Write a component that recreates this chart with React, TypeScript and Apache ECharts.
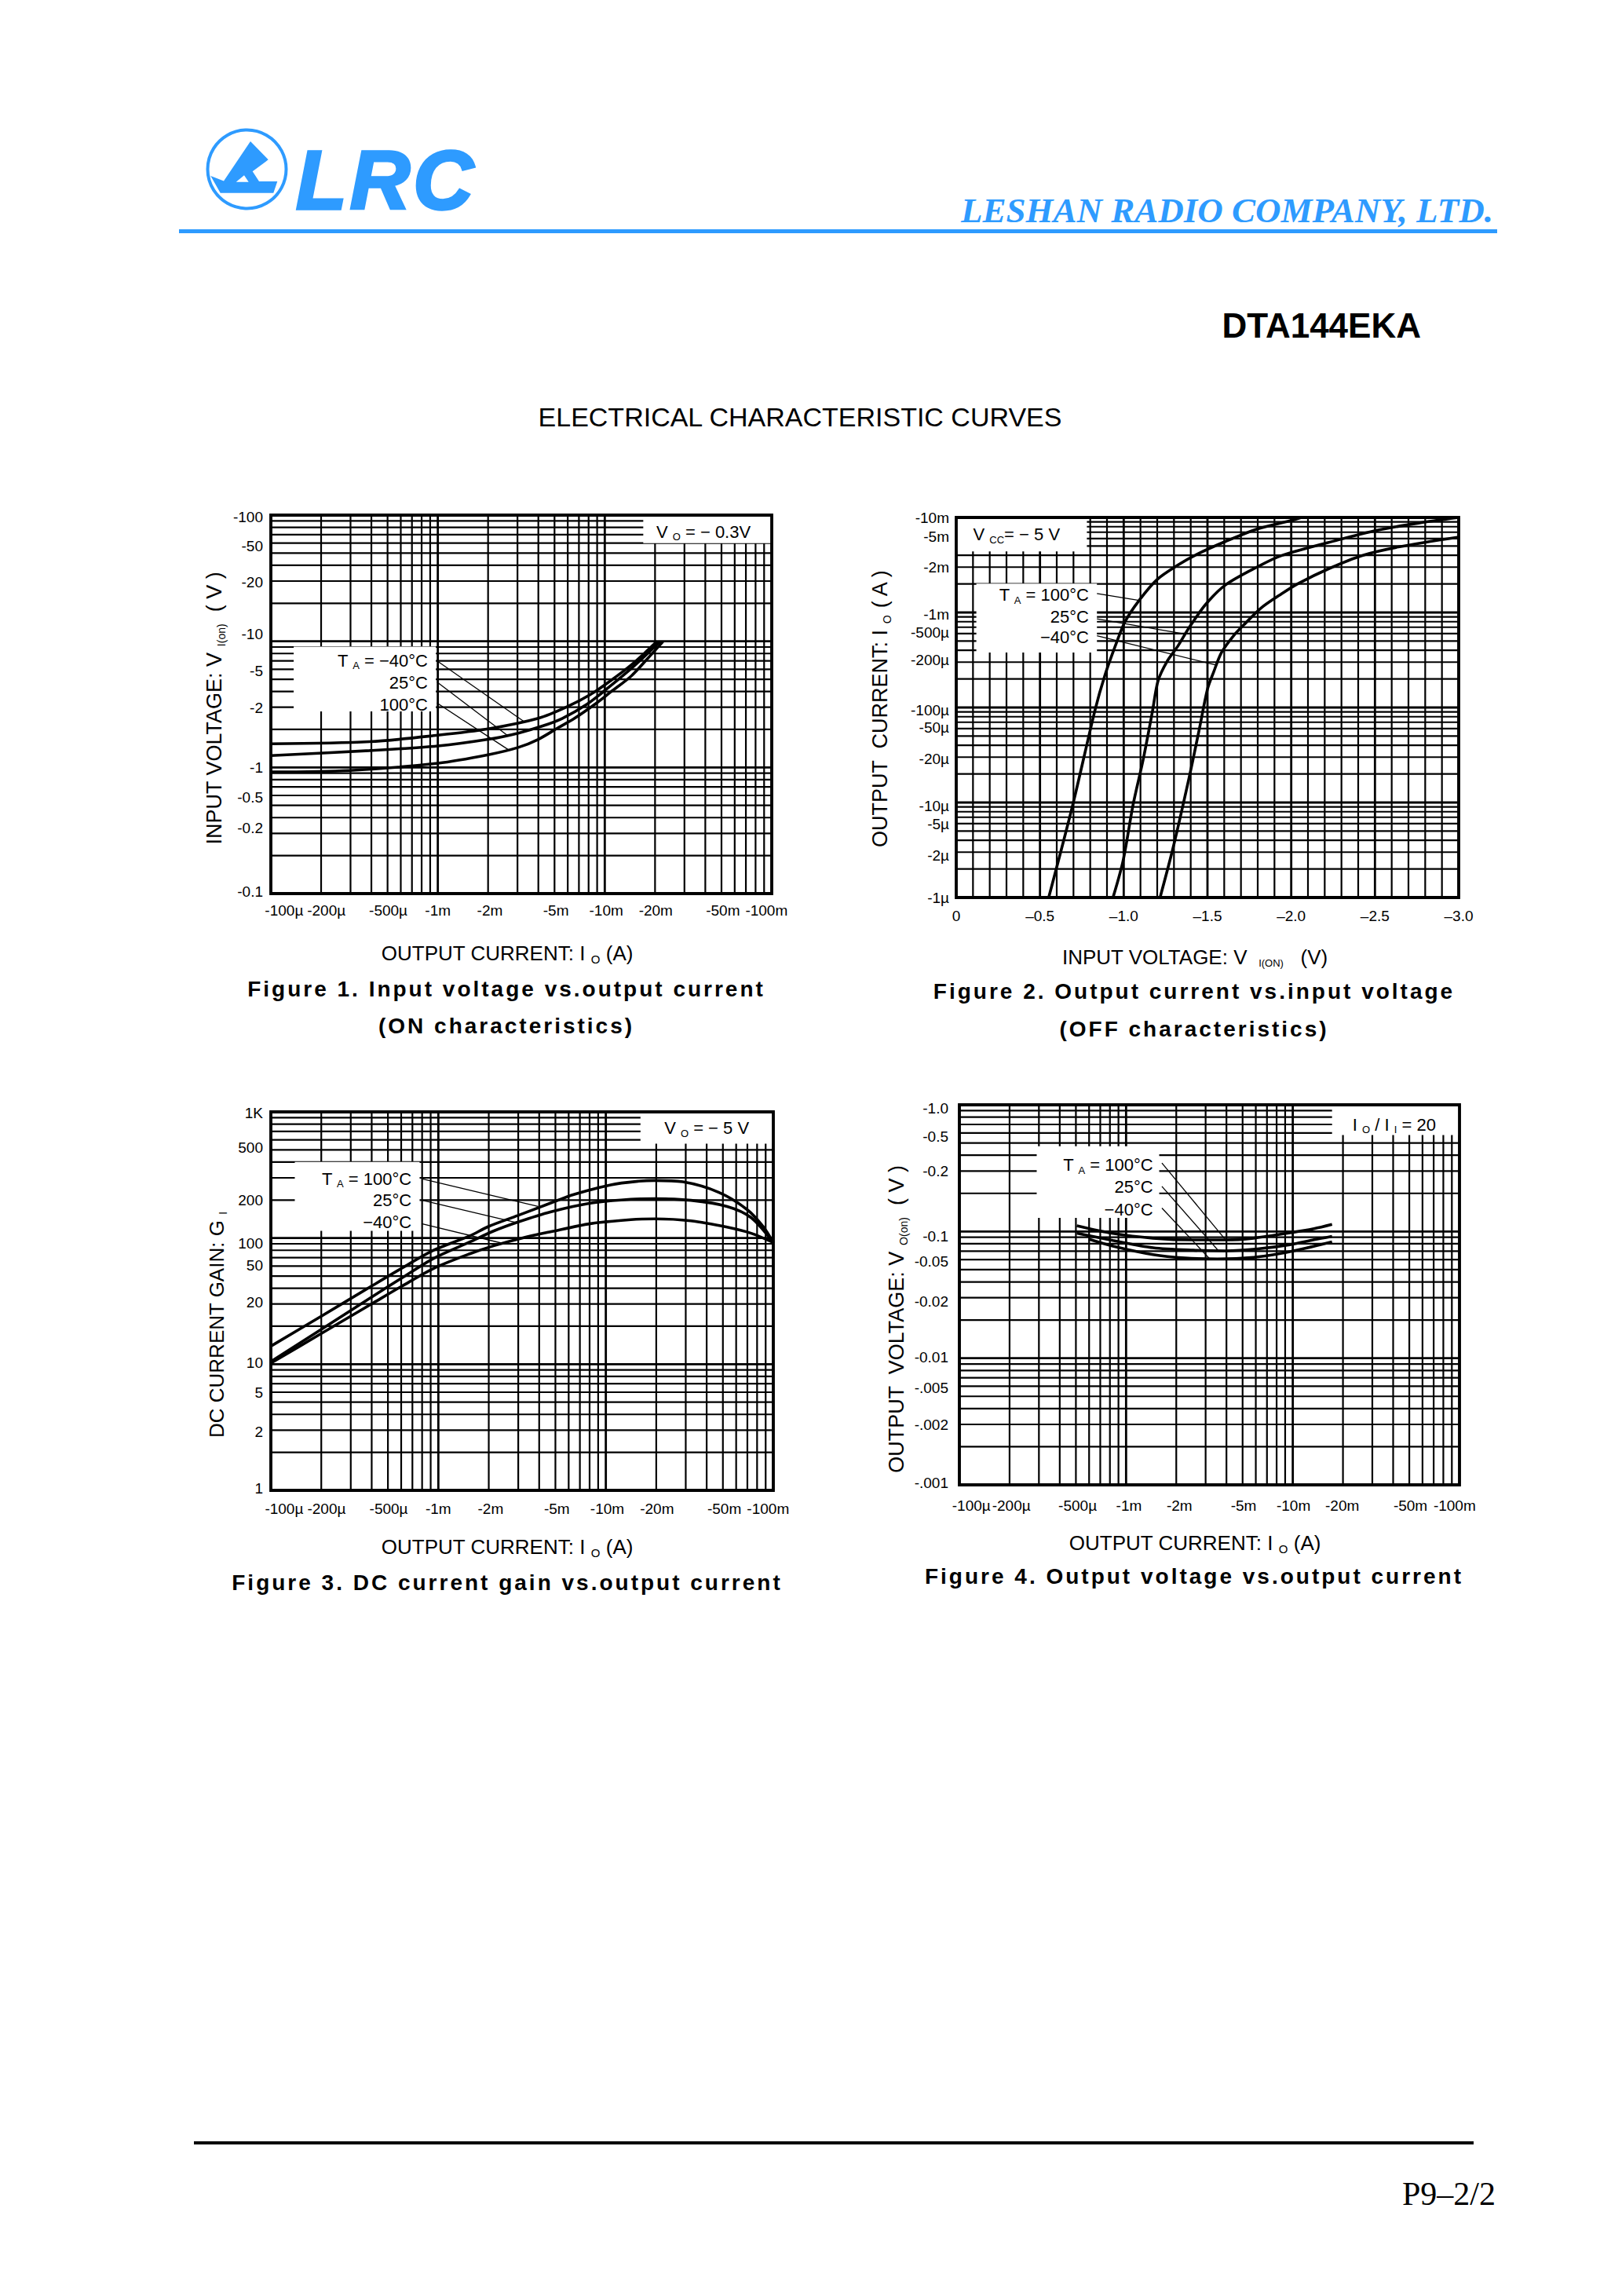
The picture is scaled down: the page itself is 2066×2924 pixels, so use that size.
import React, { useEffect, useRef } from 'react';
import * as echarts from 'echarts';

const PAGE_W = 2066;
const PAGE_H = 2924;
const BLUE = '#2e9bff';
const SANS = '"Liberation Sans", Arial, Helvetica, sans-serif';
const SERIF = '"Liberation Serif", "Times New Roman", serif';

// ================= Figure 1 : input voltage vs output current (ON) =================
const fig1CurrentM40 = [100e-6, 390e-6, 1e-3, 2e-3, 4e-3, 5.9e-3, 8.2e-3, 10.9e-3, 14.4e-3, 17.9e-3, 20.6e-3];
const fig1VoltageM40 = [1.54, 1.6, 1.8, 2.02, 2.45, 3.01, 3.78, 4.9, 6.49, 8.39, 10.0];
const fig1Current25 = [100e-6, 390e-6, 1e-3, 2e-3, 3.03e-3, 4.24e-3, 5.58e-3, 7.8e-3, 10.3e-3, 13.6e-3, 16.9e-3, 21.4e-3];
const fig1Voltage25 = [1.24, 1.36, 1.48, 1.67, 1.87, 2.13, 2.45, 3.16, 4.2, 5.7, 7.38, 9.93];
const fig1Current100 = [100e-6, 295e-6, 1e-3, 2e-3, 3.03e-3, 4e-3, 5.28e-3, 6.59e-3, 8.71e-3, 10.9e-3, 14.4e-3, 17.9e-3, 22.3e-3];
const fig1Voltage100 = [0.92, 0.946, 1.08, 1.26, 1.44, 1.67, 2.07, 2.45, 3.16, 3.98, 5.3, 7.2, 9.93];

const currentTickText = ['-100µ', '-200µ', '-500µ', '-1m', '-2m', '-5m', '-10m', '-20m', '-50m', '-100m'];
const fig13CurrentTickAt = [120e-6, 215e-6, 505e-6, 1.0e-3, 2.05e-3, 5.1e-3, 10.2e-3, 20.2e-3, 51e-3, 93e-3];
const fig1VoltTickText = ['-100', '-50', '-20', '-10', '-5', '-2', '-1', '-0.5', '-0.2', '-0.1'];
const fig1VoltTickAt = [97, 57, 29.5, 11.4, 5.8, 2.97, 1.0, 0.58, 0.33, 0.104];

// ================= Figure 2 : output current vs input voltage (OFF) =================
const fig2Voltage100 = [0.552, 0.696, 0.828, 0.888, 0.96, 1.008, 1.092, 1.2, 1.32, 1.44, 1.608, 1.8, 1.992, 2.06];
const fig2Current100 = [1.0e-6, 9.5e-6, 93e-6, 219e-6, 497e-6, 802e-6, 1.34e-3, 2.23e-3, 3.13e-3, 4.12e-3, 5.6e-3, 7.6e-3, 9.21e-3, 10e-3];
const fig2Voltage25 = [0.936, 0.996, 1.056, 1.116, 1.171, 1.205, 1.26, 1.32, 1.392, 1.488, 1.608, 1.8, 1.944, 2.28, 2.52, 2.76, 2.99];
const fig2Current25 = [1e-6, 2.43e-6, 9.5e-6, 28.3e-6, 90e-6, 191e-6, 308e-6, 434e-6, 699e-6, 1.21e-3, 1.95e-3, 3.03e-3, 3.98e-3, 5.8e-3, 7.36e-3, 8.73e-3, 9.95e-3];
const fig2VoltageM40 = [1.217, 1.296, 1.392, 1.452, 1.5, 1.536, 1.584, 1.656, 1.728, 1.824, 1.944, 2.04, 2.232, 2.424, 2.64, 3.0];
const fig2CurrentM40 = [1e-6, 3.41e-6, 18.8e-6, 60e-6, 156e-6, 234e-6, 379e-6, 570e-6, 775e-6, 1.13e-3, 1.58e-3, 2.01e-3, 2.93e-3, 3.98e-3, 4.89e-3, 6.21e-3];

const fig2VoltTickText = ['0', '–0.5', '–1.0', '–1.5', '–2.0', '–2.5', '–3.0'];
const fig2VoltTickAt = [0, 0.5, 1.0, 1.5, 2.0, 2.5, 3.0];
const fig2CurrentTickText = ['-10m', '-5m', '-2m', '-1m', '-500µ', '-200µ', '-100µ', '-50µ', '-20µ', '-10µ', '-5µ', '-2µ', '-1µ'];
const fig2CurrentTickAt = [10e-3, 6.3e-3, 2.97e-3, 0.95e-3, 610e-6, 319e-6, 93e-6, 62e-6, 28.7e-6, 9.2e-6, 5.97e-6, 2.78e-6, 1e-6];

// ================= Figure 3 : DC current gain vs output current =================
const fig3Current100 = [100e-6, 200e-6, 409e-6, 603e-6, 938e-6, 1.54e-3, 1.98e-3, 2.99e-3, 4.66e-3, 6.49e-3, 10.7e-3, 15.7e-3, 19.6e-3, 28.8e-3, 47.4e-3, 69.8e-3, 87e-3, 100e-3];
const fig3Gain100 = [13.9, 24.0, 42.4, 57.5, 80, 104, 123, 151, 189, 222, 264, 282, 286, 279, 230, 168, 123, 92];
const fig3Current25 = [100e-6, 200e-6, 409e-6, 603e-6, 938e-6, 1.54e-3, 2.15e-3, 2.99e-3, 4.66e-3, 8.09e-3, 14.1e-3, 19.6e-3, 32.2e-3, 53e-3, 73.8e-3, 100e-3];
const fig3Gain25 = [10.5, 18.9, 34.7, 48.1, 69, 93, 114, 134, 161, 189, 203, 205, 199, 178, 145, 92];
const fig3CurrentM40 = [100e-6, 200e-6, 409e-6, 603e-6, 938e-6, 1.54e-3, 2.15e-3, 3.16e-3, 4.66e-3, 8.09e-3, 14.1e-3, 19.6e-3, 32.2e-3, 53e-3, 73.8e-3, 100e-3];
const fig3GainM40 = [10.2, 17.5, 30.6, 41.4, 57.5, 75, 87, 100, 112, 130, 140, 142, 137, 122, 109, 92];

const fig3GainTickText = ['1K', '500', '200', '100', '50', '20', '10', '5', '2', '1'];
const fig3GainTickAt = [985, 519, 200, 90.6, 60.6, 31, 10.2, 5.97, 2.91, 1.04];

// ================= Figure 4 : output voltage vs output current =================
const fig4Current100 = [506e-6, 834e-6, 1.45e-3, 2.53e-3, 3.95e-3, 5.82e-3, 9.08e-3, 13.4e-3, 17.2e-3];
const fig4Voltage100 = [0.111, 0.0965, 0.0885, 0.0858, 0.0858, 0.0885, 0.0965, 0.1052, 0.1137];
const fig4Current25 = [506e-6, 834e-6, 1.45e-3, 2.53e-3, 3.95e-3, 6.15e-3, 9.6e-3, 13.4e-3, 17.2e-3];
const fig4Voltage25 = [0.097, 0.085, 0.0745, 0.0712, 0.0703, 0.0728, 0.0787, 0.0862, 0.0917];
const fig4CurrentM40 = [597e-6, 834e-6, 1.45e-3, 2.26e-3, 3.53e-3, 5.82e-3, 8.59e-3, 12.0e-3, 17.2e-3];
const fig4VoltageM40 = [0.0871, 0.0766, 0.0657, 0.0618, 0.0608, 0.0625, 0.0674, 0.0739, 0.0828];

const fig4CurrentTickAt = [118e-6, 205e-6, 512e-6, 1.04e-3, 2.09e-3, 5.07e-3, 10.1e-3, 19.8e-3, 50.8e-3, 93.5e-3];
const fig4VoltTickText = ['-1.0', '-0.5', '-0.2', '-0.1', '-0.05', '-0.02', '-0.01', '-.005', '-.002', '-.001'];
const fig4VoltTickAt = [0.94, 0.56, 0.3, 0.092, 0.058, 0.028, 0.0102, 0.0058, 0.003, 0.00104];

// ================= annotations (anchored in data space) =================
type Part = [string, boolean];
const TA_HI: Part[] = [['T ', false], ['A', true], [' = 100°C', false]];
const TA_LO: Part[] = [['T ', false], ['A', true], [' = −40°C', false]];
const P = (s: string): Part[] => [[s, false]];

const fig1Boxes = [{ from: [17e-3, 60], to: [100e-3, 100] }, { from: [137e-6, 2.78], to: [973e-6, 9.06] }];
const fig1Notes = [
  { at: [39e-3, 74], parts: [['V ', false], ['O', true], [' = − 0.3V', false]] as Part[], align: 'center' },
  { at: [871e-6, 7.01], parts: TA_LO, align: 'right' },
  { at: [871e-6, 4.7], parts: P('25°C'), align: 'right' },
  { at: [871e-6, 3.16], parts: P('100°C'), align: 'right' },
];
const fig1Leaders = [
  { from: [988e-6, 7.01], to: [3.3e-3, 2.3] },
  { from: [988e-6, 4.76], to: [2.6e-3, 1.8] },
  { from: [988e-6, 3.24], to: [2.65e-3, 1.38] },
];

const fig2Boxes = [{ from: [0, 4.4e-3], to: [0.78, 10e-3] }, { from: [0.12, 378e-6], to: [0.84, 2.01e-3] }];
const fig2Notes = [
  { at: [0.36, 6.64e-3], parts: [['V ', false], ['CC', true], ['= − 5 V', false]] as Part[], align: 'center' },
  { at: [0.792, 1.53e-3], parts: TA_HI, align: 'right' },
  { at: [0.792, 906e-6], parts: P('25°C'), align: 'right' },
  { at: [0.792, 551e-6], parts: P('−40°C'), align: 'right' },
];
const fig2Leaders = [
  { from: [0.84, 1.58e-3], to: [1.092, 1.34e-3] },
  { from: [0.84, 857e-6], to: [1.35, 600e-6] },
  { from: [0.84, 570e-6], to: [1.55, 280e-6] },
];

const fig3Boxes = [{ from: [16.1e-3, 560], to: [100e-3, 1000] }, { from: [139e-6, 114], to: [773e-6, 401] }];
const fig3Notes = [
  { at: [40e-3, 743], parts: [['V ', false], ['O', true], [' = − 5 V', false]] as Part[], align: 'center' },
  { at: [692e-6, 295], parts: TA_HI, align: 'right' },
  { at: [692e-6, 200], parts: P('25°C'), align: 'right' },
  { at: [692e-6, 133], parts: P('−40°C'), align: 'right' },
];
const fig3Leaders = [
  { from: [794e-6, 295], to: [3.94e-3, 178] },
  { from: [794e-6, 200], to: [2.91e-3, 133] },
  { from: [794e-6, 130], to: [2.4e-3, 91] },
];

const fig4Boxes = [{ from: [17.2e-3, 0.578], to: [100e-3, 1.0] }, { from: [291e-6, 0.128], to: [1.58e-3, 0.471] }];
const fig4Notes = [
  { at: [40.6e-3, 0.698], parts: [['I ', false], ['O', true], [' / I ', false], ['I', true], [' = 20', false]] as Part[], align: 'center' },
  { at: [1.45e-3, 0.334], parts: TA_HI, align: 'right' },
  { at: [1.45e-3, 0.224], parts: P('25°C'), align: 'right' },
  { at: [1.45e-3, 0.149], parts: P('−40°C'), align: 'right' },
];
const fig4Leaders = [
  { from: [1.64e-3, 0.347], to: [3.95e-3, 0.0861] },
  { from: [1.64e-3, 0.227], to: [3.57e-3, 0.0708] },
  { from: [1.64e-3, 0.153], to: [3.16e-3, 0.0612] },
];

// ================= helpers =================
function logGrid(e0: number, e1: number): number[] {
  const out: number[] = [];
  for (let e = e0; e < e1; e++) for (let k = 1; k < 10; k++) out.push(k * Math.pow(10, e));
  out.push(Math.pow(10, e1));
  return out;
}
function linGrid(n: number, step: number): number[] {
  const out: number[] = [];
  for (let i = 0; i <= n; i++) out.push(+(i * step).toFixed(4));
  return out;
}

// main tokens hang from the top of the line, subscript tokens sit on its bottom
function richStyle(parts: Part[], F: number, S: number, weight = 'normal') {
  const hasSub = parts.some((p) => p[1]);
  const L = hasSub ? Math.round(0.8 * F + S / 2) : F;
  return {
    text: parts.map(([t, s]) => `{${s ? 's' : 'a'}|${t}}`).join(''),
    fontSize: F,
    fontFamily: SANS,
    fill: '#000',
    rich: {
      a: { fontSize: F, lineHeight: F, verticalAlign: 'top', fontFamily: SANS, fontWeight: weight, fill: '#000' },
      s: { fontSize: S, lineHeight: L, verticalAlign: 'bottom', fontFamily: SANS, fill: '#000' },
    },
  };
}

const FIGS: any[] = [
  {
    grid: { left: 345, top: 656, width: 638, height: 482 },
    xLog: true, xMin: 1e-4, xMax: 1e-1, yMin: 0.1, yMax: 100,
    xGrid: logGrid(-4, -1), yGrid: logGrid(-1, 2),
    xTickAt: fig13CurrentTickAt, xTickText: currentTickText,
    yTickAt: fig1VoltTickAt, yTickText: fig1VoltTickText,
    xMargin: 12, yMargin: 10,
    curves: [[fig1CurrentM40, fig1VoltageM40], [fig1Current25, fig1Voltage25], [fig1Current100, fig1Voltage100]],
    boxes: fig1Boxes, notes: fig1Notes, leaders: fig1Leaders,
  },
  {
    grid: { left: 1218, top: 659, width: 640, height: 484 },
    xLog: false, xMin: 0, xMax: 3, yMin: 1e-6, yMax: 1e-2,
    xGrid: linGrid(30, 0.1), yGrid: logGrid(-6, -2),
    xTickAt: fig2VoltTickAt, xTickText: fig2VoltTickText,
    yTickAt: fig2CurrentTickAt, yTickText: fig2CurrentTickText,
    xMargin: 14, yMargin: 9,
    curves: [[fig2Voltage100, fig2Current100], [fig2Voltage25, fig2Current25], [fig2VoltageM40, fig2CurrentM40]],
    boxes: fig2Boxes, notes: fig2Notes, leaders: fig2Leaders,
  },
  {
    grid: { left: 345, top: 1416, width: 640, height: 482 },
    xLog: true, xMin: 1e-4, xMax: 1e-1, yMin: 1, yMax: 1000,
    xGrid: logGrid(-4, -1), yGrid: logGrid(0, 3),
    xTickAt: fig13CurrentTickAt, xTickText: currentTickText,
    yTickAt: fig3GainTickAt, yTickText: fig3GainTickText,
    xMargin: 14, yMargin: 10,
    curves: [[fig3Current100, fig3Gain100], [fig3Current25, fig3Gain25], [fig3CurrentM40, fig3GainM40]],
    boxes: fig3Boxes, notes: fig3Notes, leaders: fig3Leaders,
  },
  {
    grid: { left: 1222, top: 1407, width: 637, height: 484 },
    xLog: true, xMin: 1e-4, xMax: 1e-1, yMin: 1e-3, yMax: 1,
    xGrid: logGrid(-4, -1), yGrid: logGrid(-3, 0),
    xTickAt: fig4CurrentTickAt, xTickText: currentTickText,
    yTickAt: fig4VoltTickAt, yTickText: fig4VoltTickText,
    xMargin: 17, yMargin: 14,
    curves: [[fig4Current100, fig4Voltage100], [fig4Current25, fig4Voltage25], [fig4CurrentM40, fig4VoltageM40]],
    boxes: fig4Boxes, notes: fig4Notes, leaders: fig4Leaders,
  },
];

function nearestLabel(pos: number[], text: string[]) {
  return (v: number) => {
    let bi = 0;
    let bd = Infinity;
    pos.forEach((p, i) => {
      const d = Math.abs(p - v);
      if (d < bd) { bd = d; bi = i; }
    });
    return text[bi];
  };
}

function isMajor(v: number, log: boolean) {
  if (log) { const l = Math.log10(v); return Math.abs(l - Math.round(l)) < 1e-9; }
  return Math.abs(v * 2 - Math.round(v * 2)) < 1e-9;
}

function buildOption() {
  const xAxis: any[] = [];
  const yAxis: any[] = [];
  const series: any[] = [];
  FIGS.forEach((f, i) => {
    const tx = (v: number) => (f.xLog ? Math.log10(v) : v);
    const ty = (v: number) => Math.log10(v);
    const X0 = tx(f.xMin), X1 = tx(f.xMax), Y0 = ty(f.yMin), Y1 = ty(f.yMax);
    const xPos = f.xTickAt.map(tx);
    const yPos = f.yTickAt.map(ty);
    xAxis.push({
      type: 'value', gridIndex: i, min: X0, max: X1,
      axisLine: { show: false }, axisTick: { show: false }, splitLine: { show: false },
      axisLabel: {
        show: true, customValues: xPos, formatter: nearestLabel(xPos, f.xTickText),
        color: '#000', fontSize: 19, fontFamily: SANS, margin: f.xMargin,
      },
    });
    yAxis.push({
      type: 'value', gridIndex: i, min: Y0, max: Y1,
      axisLine: { show: false }, axisTick: { show: false }, splitLine: { show: false },
      axisLabel: {
        show: true, customValues: yPos, formatter: nearestLabel(yPos, f.yTickText),
        color: '#000', fontSize: 19, fontFamily: SANS, margin: f.yMargin,
      },
    });
    const mid = [[(X0 + X1) / 2, (Y0 + Y1) / 2]];
    // grid lines
    series.push({
      type: 'custom', xAxisIndex: i, yAxisIndex: i, z: 1, silent: true, data: mid,
      renderItem: (_p: any, api: any) => {
        const children: any[] = [];
        f.xGrid.forEach((v: number) => {
          const a = api.coord([tx(v), Y0]);
          const b = api.coord([tx(v), Y1]);
          children.push({ type: 'line', shape: { x1: a[0], y1: a[1], x2: b[0], y2: b[1] }, style: { stroke: '#000', lineWidth: isMajor(v, f.xLog) ? 2.8 : 2.2 } });
        });
        f.yGrid.forEach((v: number) => {
          const a = api.coord([X0, ty(v)]);
          const b = api.coord([X1, ty(v)]);
          children.push({ type: 'line', shape: { x1: a[0], y1: a[1], x2: b[0], y2: b[1] }, style: { stroke: '#000', lineWidth: isMajor(v, true) ? 2.8 : 2.2 } });
        });
        return { type: 'group', children };
      },
    });
    // white label boxes
    series.push({
      type: 'custom', xAxisIndex: i, yAxisIndex: i, z: 2, silent: true, data: mid,
      renderItem: (_p: any, api: any) => ({
        type: 'group',
        children: f.boxes.map((b: any) => {
          const a = api.coord([tx(b.from[0]), ty(b.to[1])]);
          const c = api.coord([tx(b.to[0]), ty(b.from[1])]);
          return { type: 'rect', shape: { x: a[0], y: a[1], width: c[0] - a[0], height: c[1] - a[1] }, style: { fill: '#fff' } };
        }),
      }),
    });
    // curves
    f.curves.forEach((c: number[][], k: number) => {
      series.push({
        type: 'line', name: `fig${i + 1}-${k}`, xAxisIndex: i, yAxisIndex: i, z: 3, silent: true,
        data: c[0].map((x: number, j: number) => [tx(x), ty(c[1][j])]),
        smooth: 0.3, symbol: 'none', showSymbol: false, clip: true,
        lineStyle: { color: '#000', width: 3.6 },
      });
    });
    // frame, leaders, notes
    series.push({
      type: 'custom', xAxisIndex: i, yAxisIndex: i, z: 4, silent: true, data: mid,
      renderItem: (_p: any, api: any) => {
        const children: any[] = [];
        f.leaders.forEach((l: any) => {
          const a = api.coord([tx(l.from[0]), ty(l.from[1])]);
          const b = api.coord([tx(l.to[0]), ty(l.to[1])]);
          children.push({ type: 'line', shape: { x1: a[0], y1: a[1], x2: b[0], y2: b[1] }, style: { stroke: '#000', lineWidth: 1.3 } });
        });
        f.notes.forEach((n: any) => {
          const p = api.coord([tx(n.at[0]), ty(n.at[1])]);
          children.push({
            type: 'text', x: p[0], y: p[1] - 11,
            style: { ...richStyle(n.parts, 22, 13), align: n.align, verticalAlign: 'top' },
          });
        });
        const a = api.coord([X0, Y1]);
        const c = api.coord([X1, Y0]);
        children.push({ type: 'rect', shape: { x: a[0], y: a[1], width: c[0] - a[0], height: c[1] - a[1] }, style: { fill: 'none', stroke: '#000', lineWidth: 3.8 } });
        return { type: 'group', children };
      },
    });
  });

  const T = (x: number, y: number, text: string, o: any = {}) => ({
    type: 'text', x, y, silent: true,
    style: {
      text, fill: o.fill || '#000', fontSize: o.size || 24, fontFamily: o.family || SANS,
      fontWeight: o.weight || 'normal', fontStyle: o.fontStyle || 'normal',
      align: o.align || 'center', verticalAlign: 'middle',
      stroke: o.stroke, lineWidth: o.lineWidth || 0,
    },
  });
  const RT = (cx: number, cy: number, parts: Part[], F: number, S: number, rotate = false) =>
    rotate
      ? { type: 'text', x: cx - F / 2, y: cy, rotation: Math.PI / 2, silent: true, style: { ...richStyle(parts, F, S), align: 'center', verticalAlign: 'top' } }
      : { type: 'text', x: cx, y: cy - F / 2, silent: true, style: { ...richStyle(parts, F, S), align: 'center', verticalAlign: 'top' } };

  const xTitleCurrent: Part[] = [['OUTPUT CURRENT: I ', false], ['O', true], [' (A)', false]];

  const graphic: any[] = [
    // logo
    { type: 'circle', shape: { cx: 314.5, cy: 215.5, r: 50 }, style: { fill: 'none', stroke: BLUE, lineWidth: 4 } },
    {
      type: 'polygon',
      shape: { points: [[268.3, 224], [285, 230.5], [319, 180], [341.7, 203.3], [338.3, 206], [321.7, 218.3], [330, 231], [353.3, 231], [348.3, 245.7], [280.7, 245.7]] },
      style: { fill: BLUE },
    },
    { type: 'polygon', shape: { points: [[300.7, 231.7], [311, 223.3], [316.7, 231.7]] }, style: { fill: '#fff' } },
    T(377, 229, 'LRC', { size: 106, weight: 'bold', fontStyle: 'italic', fill: BLUE, stroke: BLUE, lineWidth: 3.5, align: 'left' }),
    T(1902, 268, 'LESHAN RADIO COMPANY, LTD.', { size: 45, family: SERIF, weight: 'bold', fontStyle: 'italic', fill: BLUE, align: 'right' }),
    { type: 'line', shape: { x1: 228, y1: 294.5, x2: 1907, y2: 294.5 }, style: { stroke: BLUE, lineWidth: 5 } },
    T(1810, 414, 'DTA144EKA', { size: 44, weight: 'bold', align: 'right' }),
    T(1019, 531, 'ELECTRICAL CHARACTERISTIC CURVES', { size: 34 }),
    // figure 1 titles
    RT(273, 902, [['INPUT VOLTAGE: V ', false], ['I(on)', true], ['  ( V )', false]], 27, 14, true),
    RT(646, 1213.5, xTitleCurrent, 26, 15),
    T(645, 1259, 'Figure 1. Input voltage vs.output current', { size: 28, weight: 'bold' }),
    T(645, 1306, '(ON characteristics)', { size: 28, weight: 'bold' }),
    // figure 2 titles
    RT(1121, 902, [['OUTPUT  CURRENT: I ', false], ['O', true], [' ( A )', false]], 27, 14, true),
    RT(1522, 1219, [['INPUT VOLTAGE: V  ', false], ['I(ON)', true], ['   (V)', false]], 26, 13),
    T(1521, 1262, 'Figure 2. Output current vs.input voltage', { size: 28, weight: 'bold' }),
    T(1521, 1310, '(OFF characteristics)', { size: 28, weight: 'bold' }),
    // figure 3 titles
    RT(276, 1687, [['DC CURRENT GAIN: G ', false], ['I', true]], 26, 14, true),
    RT(646, 1970, xTitleCurrent, 26, 15),
    T(646, 2015, 'Figure 3. DC current gain vs.output current', { size: 28, weight: 'bold' }),
    // figure 4 titles
    RT(1142, 1680, [['OUTPUT  VOLTAGE: V ', false], ['O(on)', true], ['  ( V )', false]], 27, 14, true),
    RT(1522, 1965, xTitleCurrent, 26, 15),
    T(1521, 2007, 'Figure 4. Output voltage vs.output current', { size: 28, weight: 'bold' }),
    // footer
    { type: 'line', shape: { x1: 247, y1: 2729, x2: 1877, y2: 2729 }, style: { stroke: '#000', lineWidth: 4 } },
    T(1905, 2794, 'P9–2/2', { size: 42, family: SERIF, align: 'right' }),
  ];

  return {
    animation: false,
    backgroundColor: '#fff',
    tooltip: { show: false },
    grid: FIGS.map((f) => ({ ...f.grid, show: false, outerBoundsMode: 'none' })),
    xAxis,
    yAxis,
    series,
    graphic,
  };
}

export default function App() {
  const ref = useRef<HTMLDivElement>(null);
  useEffect(() => {
    document.body.style.margin = '0';
    const el = ref.current!;
    const chart = echarts.init(el, undefined, { renderer: 'svg', width: PAGE_W, height: PAGE_H });
    chart.setOption(buildOption() as any);
    el.querySelectorAll('text').forEach((t) => {
      const s = t.textContent || '';
      if (/^Figure \d/.test(s) || /^\((ON|OFF) /.test(s)) (t as any).style.letterSpacing = '3px';
      if (s === 'LRC') (t as any).style.letterSpacing = '4px';
    });
    return () => chart.dispose();
  }, []);
  return <div ref={ref} style={{ width: PAGE_W, height: PAGE_H, background: '#fff', overflow: 'hidden' }} />;
}
